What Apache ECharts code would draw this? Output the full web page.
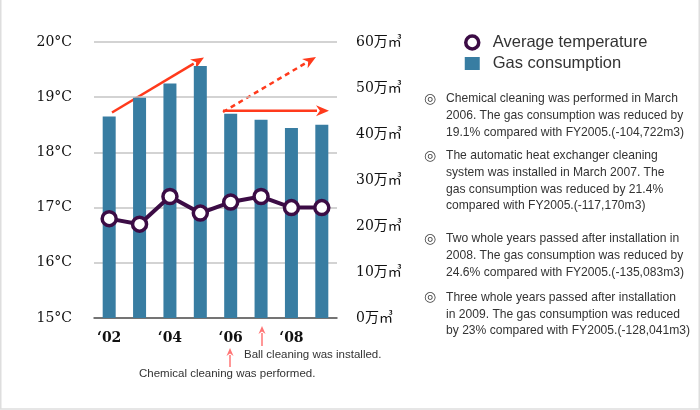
<!DOCTYPE html>
<html>
<head>
<meta charset="utf-8">
<script src="https://cdn.jsdelivr.net/npm/echarts@6/dist/echarts.min.js"></script>
<style>html,body{margin:0;padding:0;background:#fff;}#c{width:700px;height:410px;}</style>
</head>
<body>
<div id="c"></div>
<script>
const categories = ['‘02','‘03','‘04','‘05','‘06','‘07','‘08','‘09'];
const gasConsumption = [43.8, 47.9, 51.0, 54.8, 44.4, 43.1, 41.3, 42.0]; // 万m3
const avgTemperature = [16.8, 16.7, 17.2, 16.9, 17.1, 17.2, 17.0, 17.0]; // °C
const notes = [
  ['Chemical cleaning was performed in March', '2006. The gas consumption was reduced by', '19.1% compared with FY2005.(-104,722m3)'],
  ['The automatic heat exchanger cleaning', 'system was installed in March 2007. The', 'gas consumption was reduced by 21.4%', 'compared with FY2005.(-117,170m3)'],
  ['Two whole years passed after installation in', '2008. The gas consumption was reduced by', '24.6% compared with FY2005.(-135,083m3)'],
  ['Three whole years passed after installation', 'in 2009. The gas consumption was reduced', 'by 23% compared with FY2005.(-128,041m3)']
];
const noteTops = [99, 156, 239, 297.7];

const chart = echarts.init(document.getElementById('c'), null, {renderer: 'canvas'});
const axisFont = 'DejaVu Serif, "Noto Sans CJK JP", serif';
const RED = '#ff3a1c', PINK = '#ff7474', PURPLE = '#3c0c45';

function arrow(x1, y1, x2, y2, color, lw, headLen, headW, dashed) {
  const dx = x2 - x1, dy = y2 - y1, L = Math.hypot(dx, dy);
  const ux = dx / L, uy = dy / L, px = -uy, py = ux;
  const bx = x2 - ux * headLen, by = y2 - uy * headLen;
  return [
    {type: 'line', shape: {x1: x1, y1: y1, x2: bx + ux * 1, y2: by + uy * 1},
     style: {stroke: color, lineWidth: lw, lineDash: dashed ? [5, 4] : null}},
    {type: 'polygon', shape: {points: [[x2, y2], [bx + px * headW / 2, by + py * headW / 2], [x2 - ux * headLen * 0.7, y2 - uy * headLen * 0.7], [bx - px * headW / 2, by - py * headW / 2]]},
     style: {fill: color}}
  ];
}

const graphics = [];
graphics.push({type: 'rect', shape: {x: 0.75, y: -5, width: 698.5, height: 414}, style: {fill: 'none', stroke: '#dedede', lineWidth: 1.5}, silent: true});
graphics.push(...arrow(112, 112.5, 204, 57.5, RED, 2.5, 13, 11, false));
graphics.push(...arrow(223, 112, 316, 57, RED, 2.5, 13, 11, true));
graphics.push(...arrow(223, 110.7, 329, 110.7, RED, 2.5, 13, 11, false));
graphics.push(...arrow(262, 346, 262, 326, PINK, 1.5, 8, 7, false));
graphics.push(...arrow(230, 367, 230, 348, PINK, 1.5, 8, 7, false));
graphics.push({type: 'text', x: 244, y: 355, style: {text: 'Ball cleaning was installed.', font: '11.5px "Liberation Sans", Arial, sans-serif', fill: '#333', verticalAlign: 'middle'}});
graphics.push({type: 'text', x: 139, y: 374, style: {text: 'Chemical cleaning was performed.', font: '11.5px "Liberation Sans", Arial, sans-serif', fill: '#333', verticalAlign: 'middle'}});
notes.forEach((lines, i) => {
  graphics.push({type: 'text', x: 424, y: noteTops[i], style: {text: '◎', font: 'bold 14px "DejaVu Sans", sans-serif', fill: '#444', verticalAlign: 'middle'}});
  lines.forEach((ln, j) => {
    graphics.push({type: 'text', x: 446, y: noteTops[i] + j * 16.65, style: {text: ln, font: '12.1px "Liberation Sans", Arial, sans-serif', fill: '#333', verticalAlign: 'middle'}});
  });
});

chart.setOption({
  animation: false,
  backgroundColor: '#fff',
  grid: {left: 94, right: 363, top: 42, bottom: 92, containLabel: false},
  legend: {
    orient: 'vertical', left: 459, top: 29, itemWidth: 15, itemHeight: 13, itemGap: 4,
    textStyle: {fontSize: 16.5, color: '#333', fontFamily: '"Liberation Sans", Arial, sans-serif', padding: [0, 0, 0, 8]},
    data: [
      {name: 'Average temperature', icon: 'circle', itemStyle: {color: '#fff', borderColor: PURPLE, borderWidth: 3.5}},
      {name: 'Gas consumption', icon: 'rect', itemStyle: {color: '#387da2'}}
    ]
  },
  xAxis: {
    type: 'category', data: categories, boundaryGap: true,
    axisLine: {lineStyle: {color: '#555', width: 1.5}},
    axisTick: {show: false},
    axisLabel: {interval: 1, margin: 13, fontSize: 14, fontWeight: 'bold', color: '#111', fontFamily: axisFont}
  },
  yAxis: [
    {type: 'value', min: 15, max: 20, interval: 1,
     axisLine: {show: false}, axisTick: {show: false},
     splitLine: {lineStyle: {color: '#c4c4c4', width: 1.5}},
     axisLabel: {formatter: '{value}°C', margin: 22, fontSize: 14, color: '#111', fontFamily: axisFont}},
    {type: 'value', min: 0, max: 60, interval: 10, position: 'right',
     axisLine: {show: false}, axisTick: {show: false}, splitLine: {show: false},
     axisLabel: {formatter: '{value}万㎥', margin: 19, fontSize: 14, color: '#111', fontFamily: axisFont}}
  ],
  series: [
    {name: 'Gas consumption', type: 'bar', yAxisIndex: 1, data: gasConsumption, barWidth: 13,
     itemStyle: {color: '#387da2'}, z: 2},
    {name: 'Average temperature', type: 'line', yAxisIndex: 0, data: avgTemperature,
     symbol: 'circle', symbolSize: 14,
     lineStyle: {color: PURPLE, width: 4},
     itemStyle: {color: '#fff', borderColor: PURPLE, borderWidth: 3.5}, z: 5}
  ],
  graphic: graphics
});
</script>
</body>
</html>
